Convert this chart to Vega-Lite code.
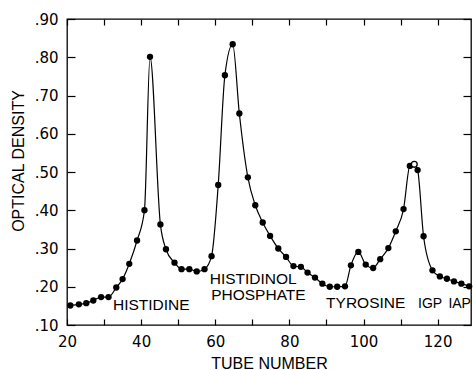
{
  "$schema": "https://vega.github.io/schema/vega-lite/v6.json",
  "width": 404,
  "height": 306,
  "autosize": {"type": "none"},
  "padding": {"left": 67, "top": 19, "right": 2, "bottom": 45},
  "background": "white",
  "config": {
    "view": {"stroke": "black", "strokeWidth": 1.3},
    "axis": {
      "grid": false,
      "domain": false,
      "tickColor": "black",
      "tickWidth": 1.2,
      "labelColor": "black",
      "labelFont": "DejaVu Sans",
      "labelFontSize": 15,
      "titleColor": "black",
      "titleFont": "Liberation Sans",
      "titleFontSize": 16,
      "titleFontWeight": "normal",
      "labelFlush": false,
      "labelOverlap": false
    }
  },
  "datasets": {
    "curve": [
      {"tube": 20.9, "od": 0.151, "marker": "filled"},
      {"tube": 23.2, "od": 0.154, "marker": "filled"},
      {"tube": 25.2, "od": 0.157, "marker": "filled"},
      {"tube": 27.1, "od": 0.164, "marker": "filled"},
      {"tube": 29.2, "od": 0.173, "marker": "filled"},
      {"tube": 31.2, "od": 0.173, "marker": "filled"},
      {"tube": 33.3, "od": 0.198, "marker": "filled"},
      {"tube": 35.0, "od": 0.220, "marker": "filled"},
      {"tube": 36.8, "od": 0.260, "marker": "filled"},
      {"tube": 38.9, "od": 0.321, "marker": "filled"},
      {"tube": 40.9, "od": 0.400, "marker": "filled"},
      {"tube": 42.4, "od": 0.801, "marker": "filled"},
      {"tube": 45.2, "od": 0.363, "marker": "filled"},
      {"tube": 46.7, "od": 0.298, "marker": "filled"},
      {"tube": 49.0, "od": 0.263, "marker": "filled"},
      {"tube": 50.9, "od": 0.246, "marker": "filled"},
      {"tube": 53.0, "od": 0.246, "marker": "filled"},
      {"tube": 55.0, "od": 0.240, "marker": "filled"},
      {"tube": 57.1, "od": 0.246, "marker": "filled"},
      {"tube": 59.0, "od": 0.280, "marker": "filled"},
      {"tube": 60.8, "od": 0.466, "marker": "filled"},
      {"tube": 62.6, "od": 0.753, "marker": "filled"},
      {"tube": 64.7, "od": 0.834, "marker": "filled"},
      {"tube": 66.5, "od": 0.653, "marker": "filled"},
      {"tube": 68.8, "od": 0.486, "marker": "filled"},
      {"tube": 70.8, "od": 0.413, "marker": "filled"},
      {"tube": 72.8, "od": 0.368, "marker": "filled"},
      {"tube": 74.8, "od": 0.333, "marker": "filled"},
      {"tube": 77.0, "od": 0.300, "marker": "filled"},
      {"tube": 79.1, "od": 0.278, "marker": "filled"},
      {"tube": 81.1, "od": 0.254, "marker": "filled"},
      {"tube": 83.1, "od": 0.252, "marker": "filled"},
      {"tube": 84.9, "od": 0.237, "marker": "filled"},
      {"tube": 86.9, "od": 0.224, "marker": "filled"},
      {"tube": 88.9, "od": 0.208, "marker": "filled"},
      {"tube": 90.9, "od": 0.200, "marker": "filled"},
      {"tube": 92.9, "od": 0.200, "marker": "filled"},
      {"tube": 95.0, "od": 0.201, "marker": "filled"},
      {"tube": 96.6, "od": 0.256, "marker": "filled"},
      {"tube": 98.6, "od": 0.291, "marker": "filled"},
      {"tube": 100.6, "od": 0.258, "marker": "filled"},
      {"tube": 102.6, "od": 0.249, "marker": "filled"},
      {"tube": 104.5, "od": 0.272, "marker": "filled"},
      {"tube": 106.7, "od": 0.301, "marker": "filled"},
      {"tube": 108.7, "od": 0.345, "marker": "filled"},
      {"tube": 110.8, "od": 0.403, "marker": "filled"},
      {"tube": 112.5, "od": 0.516, "marker": "filled"},
      {"tube": 113.7, "od": 0.520, "marker": "open"},
      {"tube": 114.6, "od": 0.505, "marker": "filled"},
      {"tube": 116.2, "od": 0.332, "marker": "filled"},
      {"tube": 118.6, "od": 0.243, "marker": "filled"},
      {"tube": 120.6, "od": 0.227, "marker": "filled"},
      {"tube": 122.5, "od": 0.221, "marker": "filled"},
      {"tube": 124.4, "od": 0.214, "marker": "filled"},
      {"tube": 126.4, "od": 0.208, "marker": "filled"},
      {"tube": 128.5, "od": 0.201, "marker": "filled"}
    ],
    "labels": [
      {"label": "HISTIDINE", "tube": 32.4, "od": 0.1395, "size": "big"},
      {"label": "HISTIDINOL", "tube": 58.5, "od": 0.208, "size": "big"},
      {"label": "PHOSPHATE", "tube": 58.9, "od": 0.166, "size": "big"},
      {"label": "TYROSINE", "tube": 89.9, "od": 0.145, "size": "big"},
      {"label": "IGP", "tube": 114.7, "od": 0.145, "size": "small"},
      {"label": "IAP", "tube": 122.9, "od": 0.145, "size": "small"}
    ]
  },
  "layer": [
    {
      "data": {"name": "curve"},
      "mark": {"type": "line", "interpolate": "monotone", "color": "black", "strokeWidth": 1.2},
      "encoding": {
        "x": {
          "field": "tube", "type": "quantitative",
          "scale": {"domain": [20, 129], "nice": false, "zero": false},
          "axis": {
            "orient": "bottom",
            "values": [20, 30, 40, 50, 60, 70, 80, 90, 100, 110, 120],
            "labelExpr": "datum.value % 20 == 0 ? datum.label : ''",
            "tickSize": -6,
            "labelPadding": 15,
            "title": "TUBE NUMBER",
            "titleBaseline": "alphabetic",
            "titleY": 43
          }
        },
        "y": {
          "field": "od", "type": "quantitative",
          "scale": {"domain": [0.1, 0.9], "nice": false, "zero": false},
          "axis": {
            "orient": "left",
            "values": [0.1, 0.2, 0.3, 0.4, 0.5, 0.6, 0.7, 0.8, 0.9],
            "labelExpr": "slice(format(datum.value, '.2f'), 1)",
            "tickSize": -8,
            "labelPadding": 17,
            "title": "OPTICAL DENSITY",
            "titleBaseline": "alphabetic",
            "titleX": -44,
            "titleY": 141.5
          }
        }
      }
    },
    {
      "data": {"name": "curve"},
      "transform": [{"filter": "datum.marker == 'filled'"}],
      "mark": {"type": "circle", "size": 40, "color": "black", "opacity": 1},
      "encoding": {
        "x": {
          "field": "tube", "type": "quantitative",
          "axis": {
            "orient": "top",
            "values": [20, 30, 40, 50, 60, 70, 80, 90, 100, 110, 120],
            "labels": false,
            "tickSize": -6,
            "title": null
          }
        },
        "y": {
          "field": "od", "type": "quantitative",
          "axis": {
            "orient": "right",
            "values": [0.1, 0.2, 0.3, 0.4, 0.5, 0.6, 0.7, 0.8, 0.9],
            "labels": false,
            "tickSize": -8,
            "title": null
          }
        }
      }
    },
    {
      "data": {"name": "curve"},
      "transform": [{"filter": "datum.marker == 'open'"}],
      "mark": {"type": "point", "shape": "circle", "size": 34, "filled": true, "fill": "white", "stroke": "black", "strokeWidth": 1.3, "opacity": 1},
      "encoding": {
        "x": {"field": "tube", "type": "quantitative", "axis": null},
        "y": {"field": "od", "type": "quantitative", "axis": null}
      }
    },
    {
      "data": {"name": "labels"},
      "transform": [{"filter": "datum.size == 'big'"}],
      "mark": {"type": "text", "align": "left", "baseline": "alphabetic", "font": "Liberation Sans", "fontSize": 15.5, "color": "black"},
      "encoding": {
        "x": {"field": "tube", "type": "quantitative", "axis": null},
        "y": {"field": "od", "type": "quantitative", "axis": null},
        "text": {"field": "label"}
      }
    },
    {
      "data": {"name": "labels"},
      "transform": [{"filter": "datum.size == 'small'"}],
      "mark": {"type": "text", "align": "left", "baseline": "alphabetic", "font": "Liberation Sans", "fontSize": 14, "color": "black"},
      "encoding": {
        "x": {"field": "tube", "type": "quantitative", "axis": null},
        "y": {"field": "od", "type": "quantitative", "axis": null},
        "text": {"field": "label"}
      }
    }
  ],
  "resolve": {"axis": {"x": "independent", "y": "independent"}}
}
